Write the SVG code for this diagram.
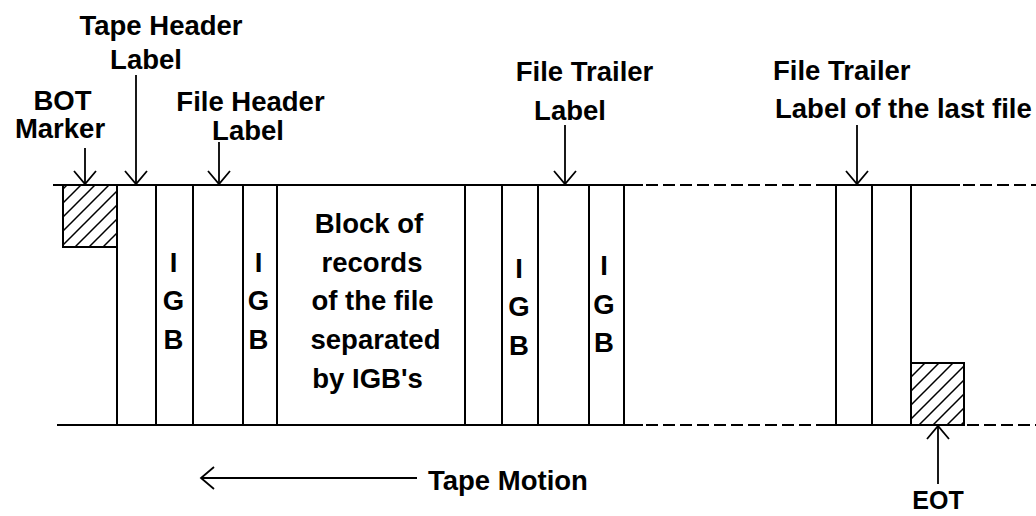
<svg xmlns="http://www.w3.org/2000/svg" width="1036" height="516" viewBox="0 0 1036 516">
<style>
text{font-family:"Liberation Sans",Arial,sans-serif;font-weight:bold;font-size:27.5px;fill:#000}
.m{text-anchor:middle}
.ln{stroke:#000;stroke-width:2;fill:none}
.ds{stroke:#000;stroke-width:2;fill:none;stroke-dasharray:12 5}
.ar{stroke:#000;stroke-width:1.8;fill:none;marker-end:url(#ah)}
</style>
<defs>
<marker id="ah" markerUnits="userSpaceOnUse" markerWidth="30" markerHeight="30" refX="0" refY="0" viewBox="-15 -15 30 30" orient="auto" overflow="visible">
<path d="M-13,-11 L0,0 L-13,11" fill="none" stroke="#000" stroke-width="1.8"/>
</marker>
<pattern id="hatch" patternUnits="userSpaceOnUse" width="14" height="14">
<path d="M-2,16 L16,-2 M-2,2 L2,-2 M12,16 L16,12" stroke="#000" stroke-width="1.5"/>
</pattern>
</defs>
<rect width="1036" height="516" fill="#fff"/>

<g id="tape">
<path class="ln" d="M53,185 H643 M823,185 H960 M57,425 H643 M823,425 H964"/>
<path class="ds" d="M646,185 H823 M963,185 H1036 M646,425 H823 M967,425 H1036"/>
<path class="ln" d="M117,185 V425 M156,185 V425 M193,185 V425 M243,185 V425 M277,185 V425 M465,185 V425 M502,185 V425 M538,185 V425 M589,185 V425 M624,185 V425 M836,185 V425 M872,185 V425 M911,185 V425"/>
</g>

<g id="bot-marker">
<rect x="63" y="185" width="54" height="62" fill="url(#hatch)" stroke="#000" stroke-width="2"/>
</g>
<g id="eot-marker">
<rect x="911" y="363" width="53" height="62" fill="url(#hatch)" stroke="#000" stroke-width="2"/>
</g>

<g id="igb1"><text class="m" x="173.5" y="272">I</text><text class="m" x="173.5" y="310">G</text><text class="m" x="173.5" y="349">B</text></g>
<g id="igb2"><text class="m" x="258.5" y="272">I</text><text class="m" x="258.5" y="310">G</text><text class="m" x="258.5" y="349">B</text></g>
<g id="igb3"><text class="m" x="519" y="278">I</text><text class="m" x="519" y="316">G</text><text class="m" x="519" y="355">B</text></g>
<g id="igb4"><text class="m" x="604" y="275">I</text><text class="m" x="604" y="314">G</text><text class="m" x="604" y="352">B</text></g>

<g id="block">
<text class="m" x="369" y="233">Block of</text>
<text class="m" x="372" y="272">records</text>
<text class="m" x="372.5" y="310">of the file</text>
<text class="m" x="375.5" y="349">separated</text>
<text class="m" x="367.5" y="388">by IGB's</text>
</g>

<g id="lbl-bot"><text class="m" x="62.5" y="110">BOT</text><text class="m" x="60" y="138">Marker</text></g>
<g id="lbl-tape-header"><text class="m" x="161" y="35">Tape Header</text><text class="m" x="146" y="69">Label</text></g>
<g id="lbl-file-header"><text class="m" x="250.5" y="111">File Header</text><text class="m" x="248" y="140">Label</text></g>
<g id="lbl-file-trailer"><text class="m" x="584.5" y="81">File Trailer</text><text class="m" x="570" y="120">Label</text></g>
<g id="lbl-last-trailer"><text x="773" y="80">File Trailer</text><text x="775" y="118">Label of the last file</text></g>
<g id="lbl-eot"><text class="m" x="938" y="509" style="font-size:25px">EOT</text></g>
<g id="lbl-motion"><text x="428" y="490">Tape Motion</text></g>

<g id="connectors">
<line class="ar" x1="85" y1="148" x2="85" y2="184"/>
<line class="ar" x1="136" y1="75" x2="136" y2="184"/>
<line class="ar" x1="219" y1="142" x2="219" y2="184"/>
<line class="ar" x1="565" y1="125" x2="565" y2="184"/>
<line class="ar" x1="857" y1="125" x2="857" y2="184"/>
<line class="ar" x1="938" y1="484" x2="938" y2="426"/>
<line class="ar" x1="417" y1="478" x2="201" y2="478"/>
</g>
</svg>
